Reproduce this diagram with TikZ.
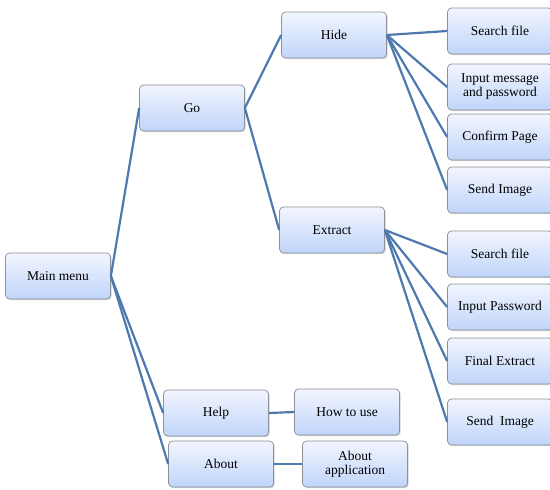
\documentclass[tikz,border=0pt]{standalone}
\usepackage{fontspec}
\setmainfont{Liberation Serif}
\usetikzlibrary{shadows}
\definecolor{boxtop}{HTML}{F2F5FE}
\definecolor{boxbot}{HTML}{C0D5FA}
\definecolor{boxline}{HTML}{8C9098}
\definecolor{linkblue}{HTML}{4E79AE}
\tikzset{
  menubox/.style={draw=boxline, line width=0.7pt, rounded corners=4pt,
    top color=boxtop, bottom color=boxbot, minimum width=105pt,
    minimum height=46pt, inner sep=2pt, align=center,
    font=\fontsize{13.5}{14}\selectfont,
    drop shadow={shadow xshift=1.2pt, shadow yshift=-1.2pt, opacity=0.35, fill=gray}},
  link/.style={draw=linkblue, line width=2.2pt}
}
\begin{document}
\begin{tikzpicture}[x=1pt,y=-1pt]
\useasboundingbox (0,0) rectangle (550,490);
% first level
\node[menubox] (main) at (58,276) {Main menu};
\node[menubox] (go) at (192,108) {Go};
\node[menubox] (help) at (216,413) {Help};
\node[menubox] (about) at (221,464) {About};
% second level
\node[menubox] (hide) at (334,35) {Hide};
\node[menubox] (extract) at (332,230) {Extract};
\node[menubox] (howto) at (347,412) {How to use};
\node[menubox] (aboutapp) at (355,464) {About\\application};
% hide branch
\node[menubox] (hs1) at (500,31) {Search file};
\node[menubox] (hs2) at (500,87) {Input message\\and password};
\node[menubox] (hs3) at (500,137) {Confirm Page};
\node[menubox] (hs4) at (500,190) {Send Image};
% extract branch
\node[menubox] (es1) at (500,254) {Search file};
\node[menubox] (es2) at (500,307) {Input Password};
\node[menubox] (es3) at (500,361) {Final Extract};
\node[menubox] (es4) at (500,422) {Send\ \ Image};
% connectors
\draw[link] (main.east) -- (go.west);
\draw[link] (main.east) -- (help.west);
\draw[link] (main.east) -- (about.west);
\draw[link] (go.east) -- (hide.west);
\draw[link] (go.east) -- (extract.west);
\draw[link] (help.east) -- (howto.west);
\draw[link] (about.east) -- (aboutapp.west);
\foreach \t in {hs1,hs2,hs3,hs4} \draw[link] (hide.east) -- (\t.west);
\foreach \t in {es1,es2,es3,es4} \draw[link] (extract.east) -- (\t.west);
\end{tikzpicture}
\end{document}
